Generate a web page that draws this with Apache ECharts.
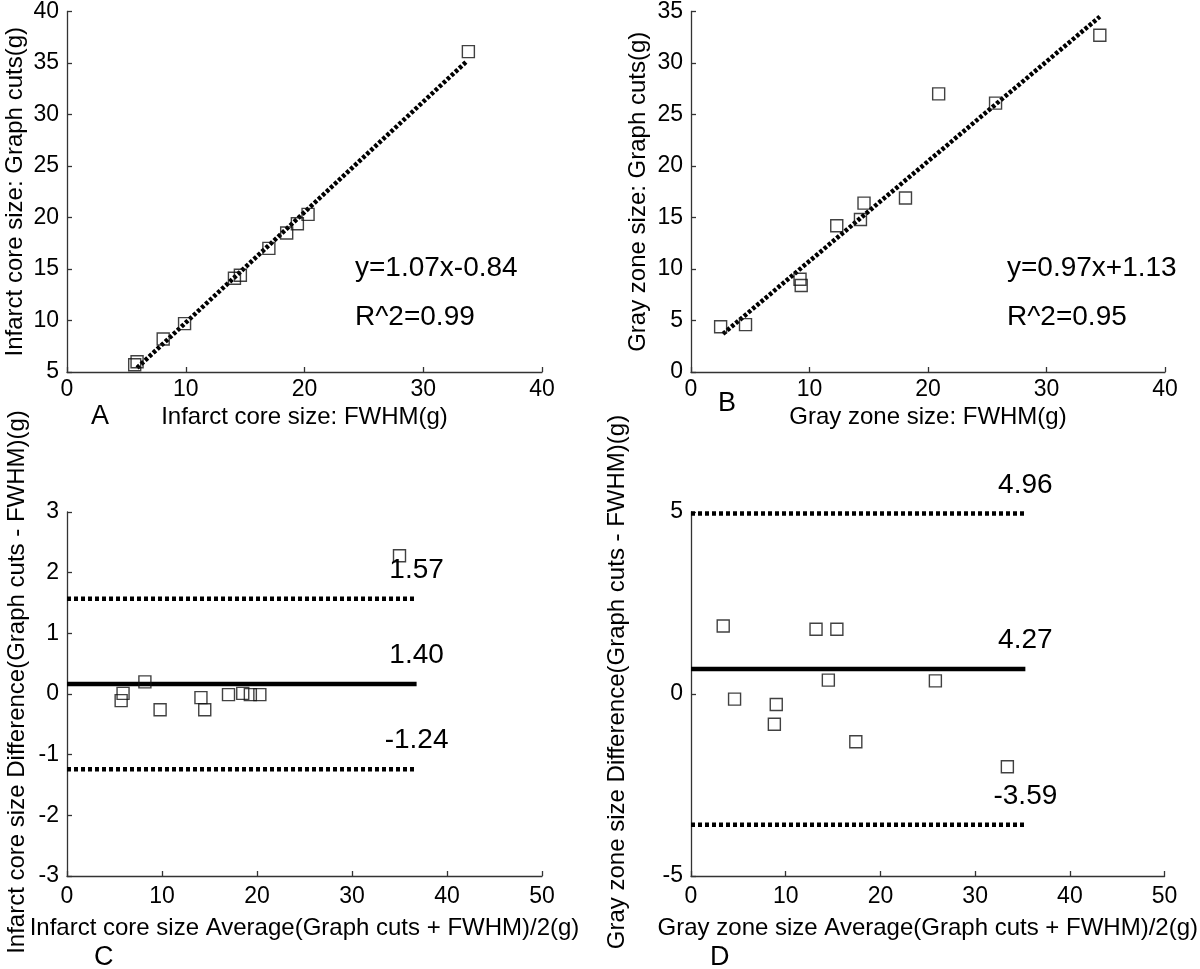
<!DOCTYPE html>
<html>
<head>
<meta charset="utf-8">
<script src="https://cdn.jsdelivr.net/npm/echarts@6/dist/echarts.min.js"></script>
<style>html,body{margin:0;padding:0;background:#fff}#chart{width:1200px;height:969px}</style>
</head>
<body>
<div id="chart"></div>
<script>
// ---- Panel A: infarct core, Graph cuts vs FWHM ----
const aFwhm = [5.7, 5.9, 8.1, 9.9, 14.1, 14.6, 17.0, 18.5, 19.4, 20.3, 33.8];
const aGraphCuts = [5.7, 6.0, 8.2, 9.7, 14.1, 14.4, 17.0, 18.5, 19.4, 20.3, 36.1];
const aFitX = [5.9, 33.6];
const aFitY = [5.4, 35.1];
const aEquation = ['y=1.07x-0.84', 'R^2=0.99'];

// ---- Panel B: gray zone, Graph cuts vs FWHM ----
const bFwhm = [2.5, 4.6, 9.2, 9.3, 12.3, 14.3, 14.6, 18.1, 20.9, 25.7, 34.5];
const bGraphCuts = [4.4, 4.6, 9.0, 8.4, 14.2, 14.8, 16.4, 16.9, 27.0, 26.1, 32.7];
const bFitX = [2.7, 34.5];
const bFitY = [3.7, 34.5];
const bEquation = ['y=0.97x+1.13', 'R^2=0.95'];

// ---- Panel C: Bland-Altman, infarct core ----
const cAverage = [5.7, 5.9, 8.2, 9.8, 14.1, 14.5, 17.0, 18.5, 19.3, 20.3, 35.0];
const cDifference = [-0.11, 0.01, 0.20, -0.26, -0.06, -0.26, -0.01, 0.01, -0.01, -0.01, 2.28];
const cLimits = [1.57, 0.165, -1.24];
const cLimitLabels = ['1.57', '1.40', '-1.24'];
const cLineX = [0, 36.8];

// ---- Panel D: Bland-Altman, gray zone ----
const dAverage = [3.4, 4.6, 9.0, 8.8, 13.2, 15.4, 14.5, 17.4, 25.8, 33.4];
const dDifference = [1.87, -0.14, -0.29, -0.83, 1.78, 1.78, 0.38, -1.31, 0.36, -2.0];
const dLimits = [4.96, 0.685, -3.59];
const dLimitLabels = ['4.96', '4.27', '-3.59'];
const dLineX = [0, 35.3];

const panelLetters = ['A', 'B', 'C', 'D'];

// ---- styling ----
const FONT = "'Liberation Sans', Arial, Helvetica, sans-serif";
const INK = '#000';
const AXIS = '#333';

function zip(xs, ys) { return xs.map((x, i) => [x, ys[i]]); }

function xAxisCfg(grid, name, max, gap, margin) {
  return {
    gridIndex: grid, type: 'value', min: 0, max: max, interval: 10,
    name: name, nameLocation: 'middle', nameGap: gap,
    nameTextStyle: { color: INK, fontSize: 24, fontFamily: FONT },
    axisLine: { show: true, onZero: false, lineStyle: { color: AXIS, width: 1.3 } },
    axisTick: { show: true, inside: true, length: 5, lineStyle: { color: AXIS, width: 1.3 } },
    axisLabel: { color: INK, fontSize: 23, fontFamily: FONT, margin: margin },
    splitLine: { show: false }
  };
}
function yAxisCfg(grid, name, min, max, interval, gap, shift) {
  return {
    gridIndex: grid, type: 'value', min: min, max: max, interval: interval,
    name: name, nameLocation: 'middle', nameGap: gap, nameRotate: 90,
    nameTextStyle: { color: INK, fontSize: 24, fontFamily: FONT, padding: [0, 0, 0, shift] },
    axisLine: { show: true, onZero: false, lineStyle: { color: AXIS, width: 1.3 } },
    axisTick: { show: true, inside: true, length: 5, lineStyle: { color: AXIS, width: 1.3 } },
    axisLabel: { color: INK, fontSize: 23, fontFamily: FONT, margin: 8 },
    splitLine: { show: false }
  };
}

const squareStyle = { color: 'rgba(0,0,0,0)', borderColor: '#111', borderWidth: 1.4 };

function scatter(idx, pts) {
  return { type: 'scatter', xAxisIndex: idx, yAxisIndex: idx, data: pts,
    symbol: 'rect', symbolSize: 12, itemStyle: squareStyle, z: 3 };
}
function fitLine(idx, xs, ys) {
  return { type: 'line', xAxisIndex: idx, yAxisIndex: idx, data: zip(xs, ys),
    symbol: 'none', lineStyle: { color: '#000', width: 4.5, type: [3.5, 2], cap: 'butt' }, z: 2 };
}
function hLines(idx, lineX, limits, labels) {
  const out = [];
  limits.forEach((v, i) => {
    const solid = i === 1;
    out.push({ type: 'line', xAxisIndex: idx, yAxisIndex: idx,
      data: lineX.map(x => [x, v]), symbol: 'none',
      lineStyle: solid ? { color: '#000', width: 4.5 } : { color: '#000', width: 4.5, type: [4, 3], cap: 'butt' },
      z: 2 });
  });
  out.push({ type: 'scatter', xAxisIndex: idx, yAxisIndex: idx,
    data: limits.map((v, i) => ({ value: [lineX[1], v], name: labels[i] })),
    symbol: 'circle', symbolSize: 1, itemStyle: { color: 'rgba(0,0,0,0)' },
    label: { show: true, position: 'top', distance: 14, formatter: p => p.name,
      color: '#000', opacity: 1, fontSize: 28, fontFamily: FONT }, silent: true, z: 4 });
  return out;
}

function txt(x, y, s, size) {
  return { type: 'text', x: x, y: y, silent: true,
    style: { text: s, font: size + 'px ' + FONT, fill: INK, align: 'left', verticalAlign: 'middle' } };
}

const option = {
  animation: false,
  backgroundColor: '#fff',
  grid: [
    { left: 67, top: 10, width: 475, height: 362 },
    { left: 691, top: 10, width: 474, height: 362 },
    { left: 67, top: 512, width: 475, height: 364 },
    { left: 691, top: 512, width: 474, height: 364 }
  ],
  xAxis: [
    xAxisCfg(0, 'Infarct core size: FWHM(g)', 40, 33, 6),
    xAxisCfg(1, 'Gray zone size: FWHM(g)', 40, 33, 6),
    xAxisCfg(2, 'Infarct core size Average(Graph cuts + FWHM)/2(g)', 50, 40, 9),
    xAxisCfg(3, 'Gray zone size Average(Graph cuts + FWHM)/2(g)', 50, 40, 9)
  ],
  yAxis: [
    yAxisCfg(0, 'Infarct core size: Graph cuts(g)', 5, 40, 5, 40, 0),
    yAxisCfg(1, 'Gray zone size: Graph cuts(g)', 0, 35, 5, 41, 0),
    yAxisCfg(2, 'Infarct core size Difference(Graph cuts - FWHM)(g)', -3, 3, 1, 38, 24),
    yAxisCfg(3, 'Gray zone size Difference(Graph cuts - FWHM)(g)', -5, 5, 5, 62, 24)
  ],
  series: [
    scatter(0, zip(aFwhm, aGraphCuts)),
    fitLine(0, aFitX, aFitY),
    scatter(1, zip(bFwhm, bGraphCuts)),
    fitLine(1, bFitX, bFitY),
    scatter(2, zip(cAverage, cDifference)),
    ...hLines(2, cLineX, cLimits, cLimitLabels),
    scatter(3, zip(dAverage, dDifference)),
    ...hLines(3, dLineX, dLimits, dLimitLabels)
  ],
  graphic: [
    txt(355, 268, aEquation[0], 28),
    txt(355, 317, aEquation[1], 28),
    txt(1007, 268, bEquation[0], 28),
    txt(1007, 317, bEquation[1], 28),
    txt(91, 417, panelLetters[0], 27),
    txt(718, 404, panelLetters[1], 27),
    txt(94, 958, panelLetters[2], 27),
    txt(710, 958, panelLetters[3], 27)
  ]
};

const chart = echarts.init(document.getElementById('chart'), null, { renderer: 'canvas' });
chart.setOption(option);
</script>
</body>
</html>
